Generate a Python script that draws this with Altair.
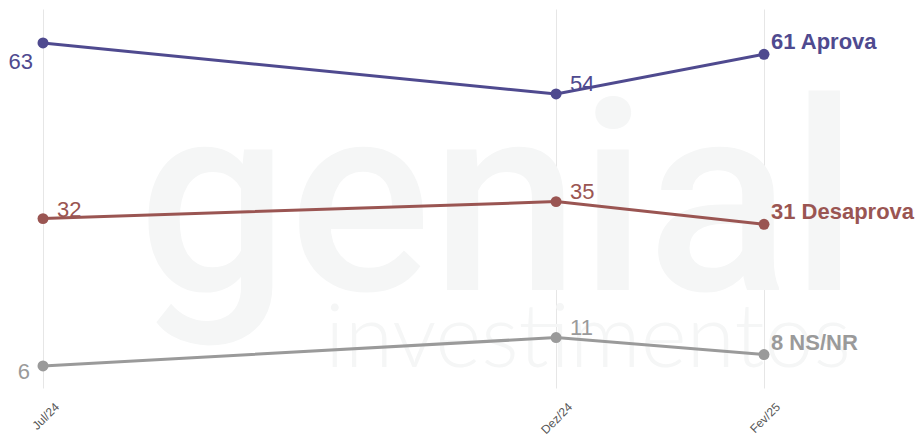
import altair as alt
import pandas as pd

# ---- data ----
dates = ["2024-07-01", "2024-12-01", "2025-02-01"]
tick_labels = ["Jul/24", "Dez/24", "Fev/25"]
series_names = ["Aprova", "Desaprova", "NS/NR"]
aprova = [63, 54, 61]
desaprova = [32, 35, 31]
nsnr = [6, 11, 8]
colors = ["#4f4a8f", "#9a5552", "#9a9a9a"]

rows = []
for name, vals in zip(series_names, [aprova, desaprova, nsnr]):
    for d, v in zip(dates, vals):
        rows.append({"date": d, "serie": name, "valor": v})
df = pd.DataFrame(rows)
df["label_end"] = df["valor"].astype(str) + " " + df["serie"]

FONT = "Liberation Sans"
label_map = "{" + ", ".join(f"'{d[:7]}': '{t}'" for d, t in zip(dates, tick_labels)) + "}"

x_enc = alt.X(
    "date:T",
    scale=alt.Scale(type="utc", domain=[alt.DateTime(year=2024, month=7, date=1, utc=True),
                                        alt.DateTime(year=2025, month=2, date=1, utc=True)]),
    axis=alt.Axis(
        values=[alt.DateTime(year=int(d[:4]), month=int(d[5:7]), date=1, utc=True) for d in dates],
        labelExpr=f"{label_map}[utcFormat(datum.value, '%Y-%m')]",
        labelAngle=-45, labelAlign="right", labelBaseline="top",
        labelFont=FONT, labelFontSize=12, labelColor="#555555",
        grid=True, gridColor="#e6e6e6", gridWidth=1,
        domain=False, ticks=False, title=None, labelPadding=13, labelOffset=10,
    ),
)
y_enc = alt.Y("valor:Q", scale=alt.Scale(domain=[2.1, 69], nice=False, zero=False), axis=None)
color_enc = alt.Color("serie:N", scale=alt.Scale(domain=series_names, range=colors), legend=None)

base = alt.Chart(df).encode(x=x_enc, y=y_enc, color=color_enc)

wm1 = alt.Chart(pd.DataFrame({"t": ["genial"]})).mark_text(
    font="Roboto", fontSize=266, fontWeight=500, color="#f5f6f6", align="center",
    baseline="alphabetic"
).encode(x=alt.value(455), y=alt.value(281), text="t:N")
wm2 = alt.Chart(pd.DataFrame({"t": ["investimentos"]})).mark_text(
    font="Lato", fontSize=88, fontWeight=300, color="#f5f6f6", align="center",
    baseline="alphabetic"
).encode(x=alt.value(545), y=alt.value(358), text="t:N")

lines = base.mark_line(strokeWidth=3)
points = base.mark_point(filled=True, size=120, opacity=1)

def lbl(filter_expr, dx, dy, align="left", bold=False, field="valor"):
    return base.transform_filter(filter_expr).mark_text(
        font=FONT, fontSize=22, fontWeight="bold" if bold else "normal",
        align=align, baseline="middle", dx=dx, dy=dy
    ).encode(text=f"{field}:N")

first = f"utcFormat(toDate(datum.date), '%Y-%m') == '{dates[0][:7]}'"
mid = f"utcFormat(toDate(datum.date), '%Y-%m') == '{dates[1][:7]}'"
last = f"utcFormat(toDate(datum.date), '%Y-%m') == '{dates[2][:7]}'"

l1 = lbl(f"{first} && datum.serie == '{series_names[0]}'", -10, 19, align="right")
l2 = lbl(f"{first} && datum.serie == '{series_names[1]}'", 14, -9)
l3 = lbl(f"{first} && datum.serie == '{series_names[2]}'", -13, 6, align="right")
l4 = lbl(mid, 14, -10)
l5 = lbl(last, 7, -12, bold=True, field="label_end")

chart = alt.layer(wm1, wm2, lines, points, l1, l2, l3, l4, l5).properties(
    width=721, height=379,
    autosize=alt.AutoSizeParams(type="none"),
    padding={"left": 35, "top": 1, "right": 151, "bottom": 46},
    background="white",
).configure_view(stroke=None)

chart.save("out.html", embed_options={"renderer": "svg", "actions": False})
